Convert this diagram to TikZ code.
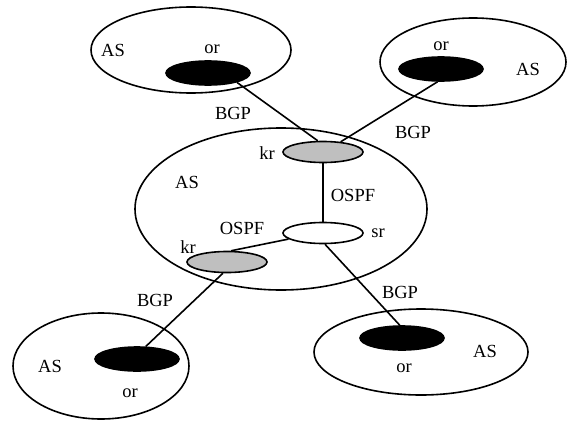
\documentclass[tikz,border=0pt]{standalone}
\usepackage{fontspec}
\setmainfont{Liberation Serif}
\usetikzlibrary{shapes.geometric}

\begin{document}
\begin{tikzpicture}[x=1pt, y=-1pt, line width=1.6pt, font=\fontsize{18.5}{22}\selectfont]
    \tikzstyle{asbox}=[ellipse, draw=black, inner sep=0pt]
    \tikzstyle{orbox}=[ellipse, draw=black, fill=black, minimum width=84pt, minimum height=24pt, inner sep=0pt]
    \tikzstyle{krbox}=[ellipse, draw=black, fill=gray!50, minimum width=80pt, minimum height=21pt, inner sep=0pt]
    \tikzstyle{srbox}=[ellipse, draw=black, fill=white, minimum width=80pt, minimum height=21pt, inner sep=0pt]
    \tikzstyle{tag}=[inner sep=0pt]
    \useasboundingbox (0,0) rectangle (567,420);

    % autonomous systems
    \node[asbox, minimum width=200pt, minimum height=86pt] (as1) at (191,50) {};
    \node[asbox, minimum width=186pt, minimum height=88pt] (as2) at (473,62) {};
    \node[asbox, minimum width=292pt, minimum height=162pt] (as0) at (281,209) {};
    \node[asbox, minimum width=176pt, minimum height=106pt] (as3) at (101,366) {};
    \node[asbox, minimum width=214pt, minimum height=86pt] (as4) at (421,352) {};

    % routers
    \node[orbox] (or1) at (208,73) {};
    \node[orbox] (or2) at (441,69) {};
    \node[orbox] (or3) at (137,359) {};
    \node[orbox] (or4) at (402,338) {};
    \node[krbox] (kr1) at (323,152) {};
    \node[krbox] (kr2) at (227,262) {};
    \node[srbox] (sr) at (323,233) {};

    \draw (or1.-18) -- (kr1.115);
    \draw (or2.-105) -- (kr1.30);
    \draw (kr1.south) -- (sr.north);
    \draw (sr.190) -- (kr2.70);
    \draw (sr.-80) -- (or4.100);
    \draw (kr2.-110) -- (or3.55);

    % labels
    \node[tag] (as1t) at (113,50) {AS};
    \node[tag] (or1t) at (212,49) {or};
    \node[tag] (or2t) at (441,46) {or};
    \node[tag] (as2t) at (528,69) {AS};
    \node[tag] (as0t) at (187,182) {AS};
    \node[tag] (kr1t) at (267,153) {kr};
    \node[tag] (ospf1) at (353,195) {OSPF};
    \node[tag] (ospf2) at (242,228) {OSPF};
    \node[tag] (srt) at (378,233) {sr};
    \node[tag] (kr2t) at (188,247) {kr};
    \node[tag] (bgp1) at (233,113) {BGP};
    \node[tag] (bgp2) at (413,132) {BGP};
    \node[tag] (bgp3) at (155,300) {BGP};
    \node[tag] (bgp4) at (400,292) {BGP};
    \node[tag] (as3t) at (50,366) {AS};
    \node[tag] (or3t) at (130,393) {or};
    \node[tag] (as4t) at (485,351) {AS};
    \node[tag] (or4t) at (404,368) {or};
\end{tikzpicture}
\end{document}
